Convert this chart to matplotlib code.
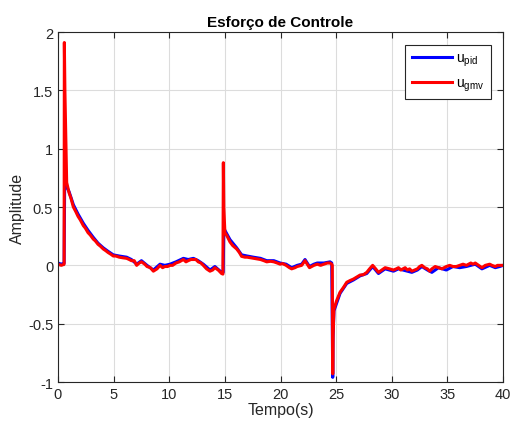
import matplotlib
matplotlib.use("Agg")
import matplotlib.pyplot as plt

plt.rcParams["font.family"] = ["Liberation Sans", "DejaVu Sans"]
plt.rcParams["mathtext.default"] = "regular"
plt.rcParams["axes.unicode_minus"] = False

# ---------------------------------------------
# Daten: (Zeit, Wert)
# ---------------------------------------------
gmv_points = [
    (0.0, 0.01), (0.3, 0.0), (0.55, 0.01), (0.57, 1.91), (0.62, 1.5),
    (0.78, 0.71), (0.9, 0.66), (1.0, 0.62), (1.15, 0.58), (1.38, 0.50),
    (1.6, 0.46), (1.8, 0.42), (2.0, 0.39), (2.28, 0.34), (2.45, 0.32),
    (2.7, 0.28), (2.9, 0.26), (3.17, 0.225), (3.35, 0.21), (3.6, 0.18),
    (3.8, 0.165), (4.07, 0.14), (4.3, 0.125), (4.5, 0.11), (4.75, 0.095),
    (4.97, 0.08), (5.2, 0.08), (5.5, 0.07), (5.8, 0.065), (6.17, 0.06),
    (6.4, 0.05), (6.6, 0.04), (6.85, 0.04), (7.07, 0.0), (7.3, 0.02),
    (7.5, 0.03), (7.8, 0.01), (8.0, -0.01), (8.3, -0.02), (8.57, -0.05),
    (8.9, -0.03), (9.17, 0.0), (9.4, -0.02), (9.6, -0.01), (9.85, -0.01),
    (10.07, 0.0), (10.3, 0.0), (10.6, 0.02), (10.9, 0.03), (11.27, 0.05),
    (11.5, 0.03), (11.7, 0.04), (11.95, 0.05), (12.17, 0.05), (12.4, 0.05),
    (12.6, 0.03), (12.85, 0.02), (13.06, 0.0), (13.35, -0.03), (13.66, -0.05),
    (13.9, -0.04), (14.1, -0.02), (14.4, -0.04), (14.7, -0.07), (14.82, -0.075),
    (14.86, 0.88), (14.9, 0.5), (15.0, 0.28), (15.2, 0.25), (15.46, 0.2),
    (15.7, 0.17), (16.06, 0.14), (16.3, 0.11), (16.5, 0.077), (16.8, 0.07),
    (17.0, 0.07), (17.3, 0.065), (17.56, 0.06), (17.9, 0.055), (18.2, 0.05),
    (18.5, 0.04), (18.76, 0.03), (19.1, 0.035), (19.4, 0.03), (19.7, 0.02),
    (19.96, 0.01), (20.2, 0.015), (20.5, 0.0), (20.8, -0.02), (21.0, -0.03),
    (21.3, -0.02), (21.5, -0.01), (21.9, 0.0), (22.2, 0.04), (22.6, -0.02),
    (23.0, 0.0), (23.3, 0.01), (23.6, 0.0), (23.9, 0.01), (24.2, 0.02),
    (24.45, 0.02), (24.6, 0.01), (24.65, 0.0), (24.69, -0.93), (24.72, -0.6),
    (24.8, -0.375), (25.05, -0.3), (25.35, -0.23), (25.65, -0.19), (25.95, -0.145),
    (26.25, -0.13), (26.56, -0.117), (26.85, -0.1), (27.15, -0.083), (27.45, -0.08),
    (27.75, -0.06), (28.0, -0.03), (28.28, 0.0), (28.55, -0.03), (28.8, -0.06),
    (29.1, -0.04), (29.4, -0.02), (29.8, -0.03), (30.15, -0.04), (30.4, -0.03),
    (30.6, -0.02), (30.8, -0.04), (31.0, -0.03), (31.2, -0.02), (31.4, -0.04),
    (31.6, -0.03), (31.8, -0.05), (32.05, -0.04), (32.3, -0.03), (32.5, -0.01),
    (32.7, 0.0), (32.95, -0.02), (33.2, -0.03), (33.4, -0.05), (33.6, -0.03),
    (33.9, -0.01), (34.2, -0.02), (34.5, -0.03), (34.9, -0.01), (35.2, 0.0),
    (35.5, -0.01), (35.8, -0.01), (36.1, 0.0), (36.4, 0.01), (36.7, 0.0),
    (36.9, 0.01), (37.1, 0.02), (37.3, 0.01), (37.5, 0.02), (37.8, 0.0),
    (38.1, -0.02), (38.4, 0.0), (38.8, 0.01), (39.0, 0.0), (39.3, -0.01),
    (39.5, 0.0), (39.7, 0.0), (40.0, 0.0),
]

pid_points = [
    (0.0, 0.02), (0.3, 0.01), (0.55, 0.02), (0.6, 0.72), (0.75, 0.68),
    (1.0, 0.63), (1.38, 0.52), (1.8, 0.44), (2.28, 0.36), (2.7, 0.30),
    (3.17, 0.24), (3.6, 0.19), (4.07, 0.15), (4.5, 0.12), (4.97, 0.09),
    (5.5, 0.08), (6.17, 0.07), (6.6, 0.05), (7.07, 0.01), (7.5, 0.04),
    (8.0, 0.0), (8.57, -0.04), (9.17, 0.01), (9.6, 0.0), (10.07, 0.01),
    (10.6, 0.03), (11.27, 0.06), (11.7, 0.05), (12.17, 0.06), (12.6, 0.04),
    (13.06, 0.01), (13.66, -0.04), (14.1, -0.01), (14.7, -0.06), (14.85, -0.06),
    (14.9, 0.32), (15.0, 0.3), (15.46, 0.22), (16.06, 0.15), (16.5, 0.09),
    (17.0, 0.08), (17.56, 0.07), (18.2, 0.06), (18.76, 0.04), (19.4, 0.04),
    (19.96, 0.02), (20.5, 0.01), (21.0, -0.02), (21.5, 0.0), (21.9, 0.01),
    (22.2, 0.05), (22.6, -0.01), (23.0, 0.01), (23.3, 0.02), (23.9, 0.02),
    (24.45, 0.03), (24.6, 0.02), (24.69, -0.96), (24.72, -0.62), (24.8, -0.39),
    (25.35, -0.24), (25.95, -0.155), (26.56, -0.125), (27.15, -0.09), (27.75, -0.07),
    (28.28, -0.01), (28.8, -0.07), (29.4, -0.03), (30.15, -0.05), (30.6, -0.03),
    (31.0, -0.04), (31.4, -0.05), (31.8, -0.06), (32.3, -0.04), (32.7, -0.01),
    (33.2, -0.04), (33.6, -0.06), (34.2, -0.02), (34.9, -0.04), (35.5, -0.01),
    (36.1, -0.02), (36.7, -0.01), (37.1, 0.0), (37.5, 0.01), (38.1, -0.03),
    (38.8, 0.0), (39.3, -0.02), (39.7, -0.01), (40.0, 0.0),
]

t_gmv = [p[0] for p in gmv_points]
u_gmv = [p[1] for p in gmv_points]
t_pid = [p[0] for p in pid_points]
u_pid = [p[1] for p in pid_points]

# ---------------------------------------------
# Plot
# ---------------------------------------------
fig = plt.figure(figsize=(5.11, 4.27), dpi=100)
ax = fig.add_axes([0.1135, 0.103, 0.871, 0.8197])

ax.plot(t_pid, u_pid, color="#0000ff", lw=2.2, label="u$_{pid}$")
ax.plot(t_gmv, u_gmv, color="#ff0000", lw=2.2, label="u$_{gmv}$")

ax.set_xlim(0, 40)
ax.set_ylim(-1, 2)
ax.set_xticks(range(0, 41, 5))
ax.set_yticks([-1, -0.5, 0, 0.5, 1, 1.5, 2])
ax.set_yticklabels(["-1", "-0.5", "0", "0.5", "1", "1.5", "2"])
ax.grid(True, color="#dcdcdc", lw=0.8)
ax.set_axisbelow(True)
ax.tick_params(direction="in", top=True, right=True, labelsize=10.5,
               colors="#262626", length=4)
for s in ax.spines.values():
    s.set_color("#262626")
    s.set_linewidth(0.8)

ax.set_title("Esforço de Controle", fontsize=11, fontweight="bold", pad=4)
ax.set_xlabel("Tempo(s)", fontsize=11.5, color="#262626", labelpad=1)
ax.set_ylabel("Amplitude", fontsize=11.5, color="#262626", labelpad=2)

leg = ax.legend(loc="upper right", fontsize=10, fancybox=False,
                edgecolor="#262626", framealpha=1, handlelength=2.9,
                handletextpad=0.3, borderaxespad=0.9, labelspacing=0.55,
                borderpad=0.45)
leg.get_frame().set_linewidth(0.8)

fig.savefig("out.png", dpi=100)
